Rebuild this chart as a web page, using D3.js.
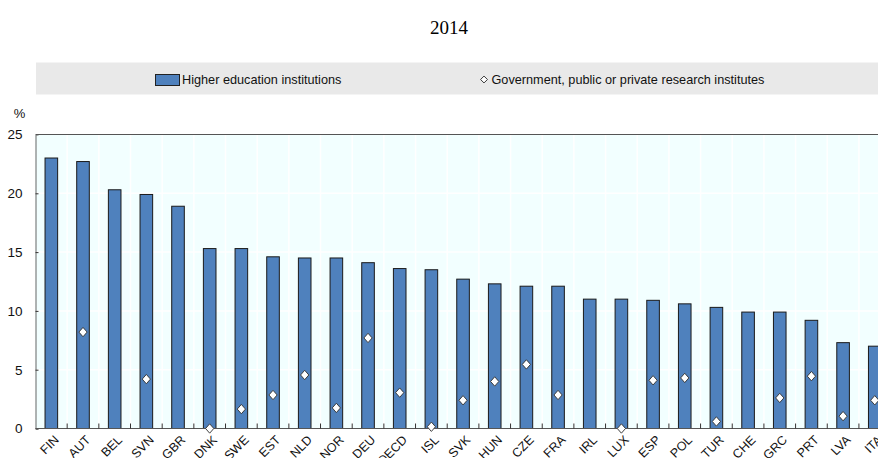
<!DOCTYPE html>
<html><head><meta charset="utf-8">
<script src="https://cdn.jsdelivr.net/npm/d3@7/dist/d3.min.js"></script>
<style>body{margin:0;background:#fff}svg{display:block}</style>
</head><body>
<svg id="c" width="878" height="458"></svg>
<script>
const categories = ["FIN","AUT","BEL","SVN","GBR","DNK","SWE","EST","NLD","NOR","DEU","OECD","ISL","SVK","HUN","CZE","FRA","IRL","LUX","ESP","POL","TUR","CHE","GRC","PRT","LVA","ITA"];
const higherEd = [23.0,22.7,20.3,19.9,18.9,15.3,15.3,14.6,14.5,14.5,14.1,13.6,13.5,12.7,12.3,12.1,12.1,11.0,11.0,10.9,10.6,10.3,9.9,9.9,9.2,7.3,7.0];
const govInst = [null,8.2,null,4.2,null,0.0,1.65,2.85,4.55,1.75,7.7,3.05,0.15,2.4,4.0,5.45,2.85,null,0.0,4.1,4.3,0.6,null,2.6,4.45,1.05,2.4];
const yTicks = [0,5,10,15,20,25];
const seriesNames = ["Higher education institutions","Government, public or private research institutes"];
const title = "2014";

(function(){
const svg = d3.select("#c");
const font = "'Liberation Sans', Arial, sans-serif";
const pLeft = 35.5, pTop = 134.5, pBottom = 428.5, pRight = 878;
const step = 31.67;
const xb = d3.scaleBand().domain(categories).range([pLeft, pLeft + step*categories.length]);
const y = d3.scaleLinear().domain([0,25]).range([pBottom, pTop]);

svg.append("text").attr("x",449).attr("y",34).attr("text-anchor","middle")
  .attr("font-family","'Liberation Serif', 'Times New Roman', serif").attr("font-size",19).text(title);

// legend
svg.append("rect").attr("x",36).attr("y",62.5).attr("width",pRight-36).attr("height",32).attr("fill","#e9e9e9");
svg.append("rect").attr("x",155.5).attr("y",74.5).attr("width",24).attr("height",11).attr("fill","#4f81bd").attr("stroke","#222").attr("stroke-width",1);
svg.append("text").attr("x",182).attr("y",84).attr("font-family",font).attr("font-size",12.7).attr("fill","#111").text(seriesNames[0]);
svg.append("path").attr("d",d3.symbol(d3.symbolDiamond2,30)()).attr("transform","translate(484,79.5)").attr("fill","#fff").attr("stroke","#222").attr("stroke-width",0.9);
svg.append("text").attr("x",491.5).attr("y",84).attr("font-family",font).attr("font-size",12.7).attr("fill","#111").text(seriesNames[1]);

// plot background
svg.append("rect").attr("x",pLeft).attr("y",pTop).attr("width",pRight-pLeft).attr("height",pBottom-pTop).attr("fill","#f2ffff");
// gridlines
const g = svg.append("g");
g.selectAll("line.h").data(yTicks.slice(1,-1)).join("line").attr("x1",pLeft).attr("x2",pRight)
  .attr("y1",d=>y(d)).attr("y2",d=>y(d)).attr("stroke","#fff").attr("stroke-width",1.5);
g.selectAll("line.v").data(categories.slice(1)).join("line").attr("x1",d=>xb(d)).attr("x2",d=>xb(d))
  .attr("y1",pTop).attr("y2",pBottom).attr("stroke","#fff").attr("stroke-width",1.5);

// bars
svg.append("g").selectAll("rect").data(categories).join("rect")
  .attr("x",(d)=>xb(d)+xb.bandwidth()/2-6.3).attr("width",12.6)
  .attr("y",(d,i)=>y(higherEd[i])).attr("height",(d,i)=>y(0)-y(higherEd[i]))
  .attr("fill","#4f81bd").attr("stroke","#1a1a1a").attr("stroke-width",1);

// axes
const yAxis = d3.axisLeft(y).tickValues(yTicks).tickSize(-3).tickPadding(13);
const ya = svg.append("g").attr("transform",`translate(${pLeft},0)`).call(yAxis);
ya.select(".domain").attr("stroke","#666");
ya.selectAll(".tick line").attr("stroke","#333");
ya.selectAll(".tick text").attr("font-family",font).attr("font-size",13.5).attr("fill","#111");
ya.selectAll(".tick").filter(d=>d===25).select("line").remove();

svg.append("line").attr("x1",pLeft).attr("x2",pRight).attr("y1",pTop).attr("y2",pTop).attr("stroke","#555").attr("stroke-width",1.2);

const xAxis = d3.axisBottom(xb).tickSize(0).tickPadding(0);
const xa = svg.append("g").attr("transform",`translate(0,${pBottom})`).call(xAxis);
xa.select(".domain").remove();
xa.selectAll(".tick text").attr("font-family",font).attr("font-size",12.5).attr("fill","#111")
  .attr("text-anchor","end").attr("dy",0).attr("y",0)
  .attr("transform","translate(2,6) rotate(-45)").attr("dominant-baseline","hanging");
svg.append("line").attr("x1",pLeft).attr("x2",pRight).attr("y1",pBottom).attr("y2",pBottom).attr("stroke","#555").attr("stroke-width",1.2);
// category boundary ticks
svg.append("g").selectAll("line").data(categories.slice(1)).join("line")
  .attr("x1",d=>xb(d)).attr("x2",d=>xb(d)).attr("y1",pBottom).attr("y2",pBottom-5).attr("stroke","#333");

svg.append("text").attr("x",19.5).attr("y",118).attr("text-anchor","middle").attr("font-family",font).attr("font-size",13).attr("fill","#111").text("%");

// diamonds
svg.append("g").selectAll("path").data(categories.filter((d,i)=>govInst[i]!==null)).join("path")
  .attr("d",d3.symbol(d3.symbolDiamond2,56)())
  .attr("transform",d=>`translate(${xb(d)+xb.bandwidth()/2},${y(govInst[categories.indexOf(d)])}) scale(0.88,1)`)
  .attr("fill","#fff").attr("stroke","#333").attr("stroke-width",1);
})();
</script>
</body></html>
